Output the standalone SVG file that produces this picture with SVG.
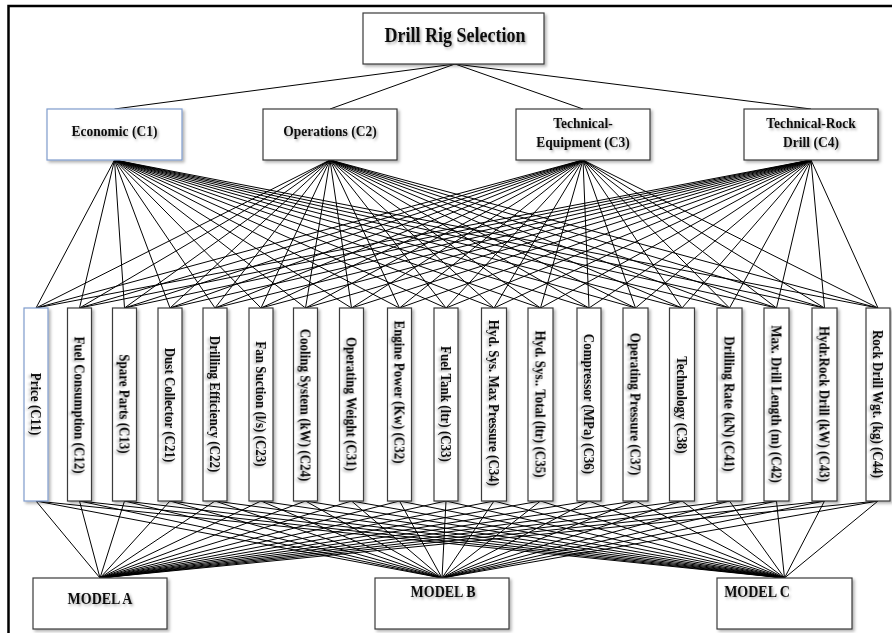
<svg xmlns="http://www.w3.org/2000/svg" width="892" height="633" viewBox="0 0 892 633">
<defs>
<filter id="sh" x="-20%" y="-20%" width="150%" height="150%">
<feDropShadow dx="2" dy="2" stdDeviation="1.5" flood-color="#000" flood-opacity="0.3"/>
</filter>
<filter id="tsh" x="-10%" y="-30%" width="130%" height="180%">
<feDropShadow dx="1.5" dy="1.5" stdDeviation="1.2" flood-color="#000" flood-opacity="0.35"/>
</filter>
</defs>
<style>
.box{fill:#fff;stroke:#3a3a3a;stroke-width:1.2;filter:url(#sh)}
.blue{stroke:#7f9ccc}
.t{font-family:"Liberation Serif","Times New Roman",serif;font-weight:bold;fill:#111;text-anchor:middle;filter:url(#tsh)}
.title{font-size:18px}
.crit{font-size:13.5px}
.sub{font-size:13px;dominant-baseline:central}
.model{font-size:14px}
.c line{stroke:#000;stroke-width:1}
.frame{stroke:#000;stroke-width:2.5;fill:none}
</style>
<polyline class="frame" points="8.5,633 8.5,6 892,6"/>
<g class="c" id="connectors">
<line x1="455" y1="64" x2="114.5" y2="109"/>
<line x1="455" y1="64" x2="330" y2="109"/>
<line x1="455" y1="64" x2="583" y2="109"/>
<line x1="455" y1="64" x2="811" y2="109"/>
<line x1="114.5" y1="160" x2="36" y2="308"/>
<line x1="114.5" y1="160" x2="79.5" y2="308"/>
<line x1="114.5" y1="160" x2="124.5" y2="308"/>
<line x1="114.5" y1="160" x2="170" y2="308"/>
<line x1="114.5" y1="160" x2="215" y2="308"/>
<line x1="114.5" y1="160" x2="261" y2="308"/>
<line x1="114.5" y1="160" x2="305.5" y2="308"/>
<line x1="114.5" y1="160" x2="351.5" y2="308"/>
<line x1="114.5" y1="160" x2="399.5" y2="308"/>
<line x1="114.5" y1="160" x2="446" y2="308"/>
<line x1="114.5" y1="160" x2="494" y2="308"/>
<line x1="114.5" y1="160" x2="540.5" y2="308"/>
<line x1="114.5" y1="160" x2="589" y2="308"/>
<line x1="114.5" y1="160" x2="635.5" y2="308"/>
<line x1="114.5" y1="160" x2="682" y2="308"/>
<line x1="114.5" y1="160" x2="729.5" y2="308"/>
<line x1="114.5" y1="160" x2="776.5" y2="308"/>
<line x1="114.5" y1="160" x2="824.5" y2="308"/>
<line x1="114.5" y1="160" x2="878" y2="308"/>
<line x1="330" y1="160" x2="36" y2="308"/>
<line x1="330" y1="160" x2="79.5" y2="308"/>
<line x1="330" y1="160" x2="124.5" y2="308"/>
<line x1="330" y1="160" x2="170" y2="308"/>
<line x1="330" y1="160" x2="215" y2="308"/>
<line x1="330" y1="160" x2="261" y2="308"/>
<line x1="330" y1="160" x2="305.5" y2="308"/>
<line x1="330" y1="160" x2="351.5" y2="308"/>
<line x1="330" y1="160" x2="399.5" y2="308"/>
<line x1="330" y1="160" x2="446" y2="308"/>
<line x1="330" y1="160" x2="494" y2="308"/>
<line x1="330" y1="160" x2="540.5" y2="308"/>
<line x1="330" y1="160" x2="589" y2="308"/>
<line x1="330" y1="160" x2="635.5" y2="308"/>
<line x1="330" y1="160" x2="682" y2="308"/>
<line x1="330" y1="160" x2="729.5" y2="308"/>
<line x1="330" y1="160" x2="776.5" y2="308"/>
<line x1="330" y1="160" x2="824.5" y2="308"/>
<line x1="330" y1="160" x2="878" y2="308"/>
<line x1="583" y1="160" x2="36" y2="308"/>
<line x1="583" y1="160" x2="79.5" y2="308"/>
<line x1="583" y1="160" x2="124.5" y2="308"/>
<line x1="583" y1="160" x2="170" y2="308"/>
<line x1="583" y1="160" x2="215" y2="308"/>
<line x1="583" y1="160" x2="261" y2="308"/>
<line x1="583" y1="160" x2="305.5" y2="308"/>
<line x1="583" y1="160" x2="351.5" y2="308"/>
<line x1="583" y1="160" x2="399.5" y2="308"/>
<line x1="583" y1="160" x2="446" y2="308"/>
<line x1="583" y1="160" x2="494" y2="308"/>
<line x1="583" y1="160" x2="540.5" y2="308"/>
<line x1="583" y1="160" x2="589" y2="308"/>
<line x1="583" y1="160" x2="635.5" y2="308"/>
<line x1="583" y1="160" x2="682" y2="308"/>
<line x1="583" y1="160" x2="729.5" y2="308"/>
<line x1="583" y1="160" x2="776.5" y2="308"/>
<line x1="583" y1="160" x2="824.5" y2="308"/>
<line x1="583" y1="160" x2="878" y2="308"/>
<line x1="811" y1="160" x2="36" y2="308"/>
<line x1="811" y1="160" x2="79.5" y2="308"/>
<line x1="811" y1="160" x2="124.5" y2="308"/>
<line x1="811" y1="160" x2="170" y2="308"/>
<line x1="811" y1="160" x2="215" y2="308"/>
<line x1="811" y1="160" x2="261" y2="308"/>
<line x1="811" y1="160" x2="305.5" y2="308"/>
<line x1="811" y1="160" x2="351.5" y2="308"/>
<line x1="811" y1="160" x2="399.5" y2="308"/>
<line x1="811" y1="160" x2="446" y2="308"/>
<line x1="811" y1="160" x2="494" y2="308"/>
<line x1="811" y1="160" x2="540.5" y2="308"/>
<line x1="811" y1="160" x2="589" y2="308"/>
<line x1="811" y1="160" x2="635.5" y2="308"/>
<line x1="811" y1="160" x2="682" y2="308"/>
<line x1="811" y1="160" x2="729.5" y2="308"/>
<line x1="811" y1="160" x2="776.5" y2="308"/>
<line x1="811" y1="160" x2="824.5" y2="308"/>
<line x1="811" y1="160" x2="878" y2="308"/>
<line x1="36" y1="501" x2="100" y2="578"/><line x1="36" y1="501" x2="442" y2="578"/><line x1="36" y1="501" x2="784.5" y2="578"/>
<line x1="79.5" y1="501" x2="100" y2="578"/><line x1="79.5" y1="501" x2="442" y2="578"/><line x1="79.5" y1="501" x2="784.5" y2="578"/>
<line x1="124.5" y1="501" x2="100" y2="578"/><line x1="124.5" y1="501" x2="442" y2="578"/><line x1="124.5" y1="501" x2="784.5" y2="578"/>
<line x1="170" y1="501" x2="100" y2="578"/><line x1="170" y1="501" x2="442" y2="578"/><line x1="170" y1="501" x2="784.5" y2="578"/>
<line x1="215" y1="501" x2="100" y2="578"/><line x1="215" y1="501" x2="442" y2="578"/><line x1="215" y1="501" x2="784.5" y2="578"/>
<line x1="261" y1="501" x2="100" y2="578"/><line x1="261" y1="501" x2="442" y2="578"/><line x1="261" y1="501" x2="784.5" y2="578"/>
<line x1="305.5" y1="501" x2="100" y2="578"/><line x1="305.5" y1="501" x2="442" y2="578"/><line x1="305.5" y1="501" x2="784.5" y2="578"/>
<line x1="351.5" y1="501" x2="100" y2="578"/><line x1="351.5" y1="501" x2="442" y2="578"/><line x1="351.5" y1="501" x2="784.5" y2="578"/>
<line x1="399.5" y1="501" x2="100" y2="578"/><line x1="399.5" y1="501" x2="442" y2="578"/><line x1="399.5" y1="501" x2="784.5" y2="578"/>
<line x1="446" y1="501" x2="100" y2="578"/><line x1="446" y1="501" x2="442" y2="578"/><line x1="446" y1="501" x2="784.5" y2="578"/>
<line x1="494" y1="501" x2="100" y2="578"/><line x1="494" y1="501" x2="442" y2="578"/><line x1="494" y1="501" x2="784.5" y2="578"/>
<line x1="540.5" y1="501" x2="100" y2="578"/><line x1="540.5" y1="501" x2="442" y2="578"/><line x1="540.5" y1="501" x2="784.5" y2="578"/>
<line x1="589" y1="501" x2="100" y2="578"/><line x1="589" y1="501" x2="442" y2="578"/><line x1="589" y1="501" x2="784.5" y2="578"/>
<line x1="635.5" y1="501" x2="100" y2="578"/><line x1="635.5" y1="501" x2="442" y2="578"/><line x1="635.5" y1="501" x2="784.5" y2="578"/>
<line x1="682" y1="501" x2="100" y2="578"/><line x1="682" y1="501" x2="442" y2="578"/><line x1="682" y1="501" x2="784.5" y2="578"/>
<line x1="729.5" y1="501" x2="100" y2="578"/><line x1="729.5" y1="501" x2="442" y2="578"/><line x1="729.5" y1="501" x2="784.5" y2="578"/>
<line x1="776.5" y1="501" x2="100" y2="578"/><line x1="776.5" y1="501" x2="442" y2="578"/><line x1="776.5" y1="501" x2="784.5" y2="578"/>
<line x1="824.5" y1="501" x2="100" y2="578"/><line x1="824.5" y1="501" x2="442" y2="578"/><line x1="824.5" y1="501" x2="784.5" y2="578"/>
<line x1="878" y1="501" x2="100" y2="578"/><line x1="878" y1="501" x2="442" y2="578"/><line x1="878" y1="501" x2="784.5" y2="578"/>
</g>
<g id="goal"><rect class="box" x="363" y="13" width="181" height="51"/><text class="t title" transform="translate(455 42) scale(1 1.15)">Drill Rig Selection</text></g>
<g id="c1"><rect class="box blue" x="47" y="109" width="135" height="51"/><text class="t crit" transform="translate(114.5 136) scale(1 1.12)">Economic (C1)</text></g>
<g id="c2"><rect class="box" x="263" y="109" width="134" height="51"/><text class="t crit" transform="translate(330 136) scale(1 1.12)">Operations (C2)</text></g>
<g id="c3"><rect class="box" x="516" y="109" width="134" height="51"/><text class="t crit" transform="translate(583 128) scale(1 1.12)">Technical-</text><text class="t crit" transform="translate(583 147) scale(1 1.12)">Equipment (C3)</text></g>
<g id="c4"><rect class="box" x="744" y="109" width="134" height="51"/><text class="t crit" transform="translate(811 128) scale(1 1.12)">Technical-Rock</text><text class="t crit" transform="translate(811 147) scale(1 1.12)">Drill  (C4)</text></g>
<g id="c11"><rect class="box blue" x="24" y="308" width="24" height="193"/><text class="t sub" transform="translate(36 404) rotate(90) scale(1 1.12)">Price (C11)</text></g>
<g id="c12"><rect class="box" x="67.5" y="308" width="24" height="193"/><text class="t sub" transform="translate(79.5 405) rotate(90) scale(1 1.12)">Fuel Consumption (C12)</text></g>
<g id="c13"><rect class="box" x="112.5" y="308" width="24" height="193"/><text class="t sub" transform="translate(124.5 404) rotate(90) scale(1 1.12)">Spare Parts (C13)</text></g>
<g id="c21"><rect class="box" x="158" y="308" width="24" height="193"/><text class="t sub" transform="translate(170 405) rotate(90) scale(1 1.12)">Dust Collector (C21)</text></g>
<g id="c22"><rect class="box" x="203" y="308" width="24" height="193"/><text class="t sub" transform="translate(215 404) rotate(90) scale(1 1.12)">Drilling Efficiency (C22)</text></g>
<g id="c23"><rect class="box" x="249" y="308" width="24" height="193"/><text class="t sub" transform="translate(261 404) rotate(90) scale(1 1.12)">Fan Suction (l/s) (C23)</text></g>
<g id="c24"><rect class="box" x="293.5" y="308" width="24" height="193"/><text class="t sub" transform="translate(305.5 405) rotate(90) scale(1 1.12)">Cooling System (kW) (C24)</text></g>
<g id="c31"><rect class="box" x="339.5" y="308" width="24" height="193"/><text class="t sub" transform="translate(351.5 404) rotate(90) scale(1 1.12)">Operating Weight (C31)</text></g>
<g id="c32"><rect class="box" x="387.5" y="308" width="24" height="193"/><text class="t sub" transform="translate(399.5 392) rotate(90) scale(1 1.12)">Engine Power (Kw) (C32)</text></g>
<g id="c33"><rect class="box" x="434" y="308" width="24" height="193"/><text class="t sub" transform="translate(446 404) rotate(90) scale(1 1.12)">Fuel Tank (ltr) (C33)</text></g>
<g id="c34"><rect class="box" x="481.5" y="308" width="25" height="193"/><text class="t sub" transform="translate(494 403) rotate(90) scale(1 1.12)">Hyd. Sys. Max Pressure (C34)</text></g>
<g id="c35"><rect class="box" x="528" y="308" width="25" height="193"/><text class="t sub" transform="translate(540.5 404) rotate(90) scale(1 1.12)">Hyd. Sys.. Total (ltr) (C35)</text></g>
<g id="c36"><rect class="box" x="577" y="308" width="24" height="193"/><text class="t sub" transform="translate(589 404) rotate(90) scale(1 1.12)">Compressor (MPa) (C36)</text></g>
<g id="c37"><rect class="box" x="623" y="308" width="25" height="193"/><text class="t sub" transform="translate(635.5 404) rotate(90) scale(1 1.12)">Operating Pressure  (C37)</text></g>
<g id="c38"><rect class="box" x="669.5" y="308" width="25" height="193"/><text class="t sub" transform="translate(682 405) rotate(90) scale(1 1.12)">Technology (C38)</text></g>
<g id="c41"><rect class="box" x="717" y="308" width="25" height="193"/><text class="t sub" transform="translate(729.5 404) rotate(90) scale(1 1.12)">Drilling Rate (kN) (C41)</text></g>
<g id="c42"><rect class="box" x="764" y="308" width="25" height="193"/><text class="t sub" transform="translate(776.5 404) rotate(90) scale(1 1.12)">Max. Drill Length (m) (C42)</text></g>
<g id="c43"><rect class="box" x="812" y="308" width="25" height="193"/><text class="t sub" transform="translate(824.5 404) rotate(90) scale(1 1.12)">Hydr.Rock Drill (kW) (C43)</text></g>
<g id="c44"><rect class="box" x="866" y="308" width="24" height="193"/><text class="t sub" transform="translate(878 404) rotate(90) scale(1 1.12)">Rock Drill Wgt. (kg) (C44)</text></g>
<g id="modelA"><rect class="box" x="33" y="578" width="134" height="51"/><text class="t model" transform="translate(100 604) scale(1 1.12)">MODEL A</text></g>
<g id="modelB"><rect class="box" x="375" y="578" width="134" height="51"/><text class="t model" transform="translate(443 597) scale(1 1.12)">MODEL B</text></g>
<g id="modelC"><rect class="box" x="717" y="578" width="135" height="51"/><text class="t model" transform="translate(757 597) scale(1 1.12)">MODEL C</text></g>
</svg>
